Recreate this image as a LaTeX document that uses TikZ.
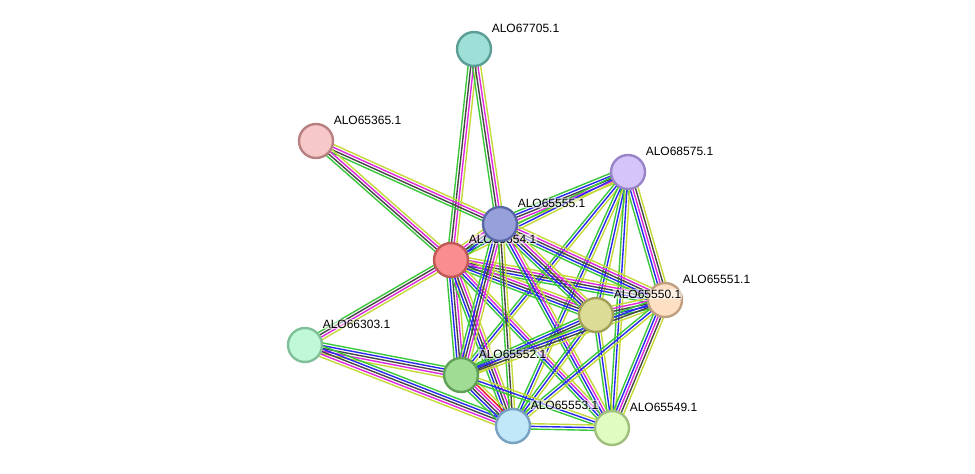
\documentclass[tikz,border=0pt]{standalone}
\usepackage{fontspec}
\setmainfont{Liberation Sans}
\usetikzlibrary{calc}
\definecolor{sg}{RGB}{58,200,58}
\definecolor{sk}{RGB}{70,70,70}
\definecolor{sm}{RGB}{222,40,222}
\definecolor{sy}{RGB}{196,216,56}
\definecolor{sb}{RGB}{40,40,240}
\definecolor{sr}{RGB}{236,30,30}
\newcommand\nchan{0}
\newcommand\edgeln[3]{%
  \gdef\nchan{0}%
  \foreach \c in {#3}{\xdef\nchan{\the\numexpr\nchan+1\relax}}%
  \foreach \c [count=\i] in {#3}{%
    \pgfmathsetmacro\off{(\i-(\nchan+1)/2)*2.7}%
    \draw[color=\c, line width=1.4pt] ($(#1)!\off pt!90:(#2)$) -- ($(#2)!\off pt!-90:(#1)$);
  }%
}
\tikzset{
  prot/.style={circle, minimum size=34pt, inner sep=0pt, line width=2.4pt},
  plabel/.style={anchor=west, inner sep=0.6pt, fill=white, fill opacity=0.55, text opacity=1, font=\fontsize{12}{14}\selectfont}
}
\begin{document}
\begin{tikzpicture}[x=1pt, y=-1pt]
\useasboundingbox (0,0) rectangle (975,474);
\coordinate (A) at (474,49);
\coordinate (B) at (316,141);
\coordinate (C) at (628,172);
\coordinate (D) at (500,224);
\coordinate (E) at (451,260);
\coordinate (F) at (665,300);
\coordinate (G) at (596,315);
\coordinate (H) at (305,345);
\coordinate (I) at (461,375);
\coordinate (J) at (513,426);
\coordinate (K) at (612,428);
% edges
\edgeln{A}{E}{sg,sk,sm,sy}
\edgeln{A}{D}{sg,sk,sm,sy}
\edgeln{B}{D}{sg,sk,sm,sy}
\edgeln{B}{E}{sg,sk,sm,sy}
\edgeln{C}{D}{sg,sb,sk,sm,sy}
\edgeln{C}{E}{sg,sb,sy}
\edgeln{C}{F}{sg,sb,sm,sk,sy}
\edgeln{C}{G}{sg,sb,sy}
\edgeln{C}{I}{sg,sb,sy}
\edgeln{C}{J}{sg,sb,sy}
\edgeln{C}{K}{sg,sb,sy}
\edgeln{H}{E}{sy,sm,sk,sg}
\edgeln{H}{I}{sy,sm,sk,sb,sg}
\edgeln{H}{J}{sy,sm,sk,sb,sg}
\edgeln{E}{D}{sg,sb,sk,sm,sy}
\edgeln{E}{F}{sg,sb,sk,sm,sy}
\edgeln{E}{G}{sg,sb,sk,sm,sy}
\edgeln{E}{I}{sg,sb,sk,sm,sy}
\edgeln{E}{J}{sg,sb,sk,sm,sy}
\edgeln{E}{K}{sg,sb,sm,sy}
\edgeln{D}{F}{sg,sb,sk,sm,sy}
\edgeln{D}{G}{sg,sb,sk,sm,sy}
\edgeln{D}{I}{sg,sb,sk,sm,sy}
\edgeln{D}{J}{sg,sk,sy}
\edgeln{D}{K}{sg,sb,sm,sy}
\edgeln{G}{F}{sg,sb,sk,sm,sy}
\edgeln{G}{I}{sg,sb,sk,sy}
\edgeln{G}{J}{sg,sb,sy}
\edgeln{G}{K}{sg,sb,sy}
\edgeln{F}{I}{sg,sb,sk,sy}
\edgeln{F}{J}{sg,sb,sy}
\edgeln{F}{K}{sg,sb,sm,sk,sy}
\edgeln{I}{J}{sg,sb,sk,sm,sr,sy}
\edgeln{I}{K}{sg,sb,sy}
\edgeln{J}{K}{sg,sb,sy}
% nodes
\node[prot, fill={rgb,255:red,158;green,224;blue,216}, draw={rgb,255:red,90;green,158;blue,150}] (nA) at (A) {};
\node[plabel] (lA) at ($(A)+(17,-21)$) {ALO67705.1};
\node[prot, fill={rgb,255:red,247;green,200;blue,200}, draw={rgb,255:red,184;green,128;blue,128}] (nB) at (B) {};
\node[plabel] (lB) at ($(B)+(17,-21)$) {ALO65365.1};
\node[prot, fill={rgb,255:red,212;green,196;blue,250}, draw={rgb,255:red,154;green,132;blue,200}] (nC) at (C) {};
\node[plabel] (lC) at ($(C)+(17,-21)$) {ALO68575.1};
\node[prot, fill={rgb,255:red,250;green,142;blue,142}, draw={rgb,255:red,192;green,88;blue,88}] (nE) at (E) {};
\node[plabel] (lE) at ($(E)+(17,-21)$) {ALO65554.1};
\node[prot, fill={rgb,255:red,152;green,160;blue,220}, draw={rgb,255:red,90;green,104;blue,168}] (nD) at (D) {};
\node[plabel] (lD) at ($(D)+(17,-21)$) {ALO65555.1};
\node[prot, fill={rgb,255:red,253;green,224;blue,196}, draw={rgb,255:red,192;green,160;blue,128}] (nF) at (F) {};
\node[plabel] (lF) at ($(F)+(17,-21)$) {ALO65551.1};
\node[prot, fill={rgb,255:red,220;green,220;blue,150}, draw={rgb,255:red,160;green,160;blue,88}] (nG) at (G) {};
\node[plabel] (lG) at ($(G)+(17,-21)$) {ALO65550.1};
\node[prot, fill={rgb,255:red,192;green,248;blue,216}, draw={rgb,255:red,128;green,192;blue,152}] (nH) at (H) {};
\node[plabel] (lH) at ($(H)+(17,-21)$) {ALO66303.1};
\node[prot, fill={rgb,255:red,160;green,220;blue,148}, draw={rgb,255:red,96;green,160;blue,88}] (nI) at (I) {};
\node[plabel] (lI) at ($(I)+(17,-21)$) {ALO65552.1};
\node[prot, fill={rgb,255:red,192;green,232;blue,248}, draw={rgb,255:red,120;green,160;blue,192}] (nJ) at (J) {};
\node[plabel] (lJ) at ($(J)+(17,-21)$) {ALO65553.1};
\node[prot, fill={rgb,255:red,224;green,252;blue,192}, draw={rgb,255:red,160;green,192;blue,128}] (nK) at (K) {};
\node[plabel] (lK) at ($(K)+(17,-21)$) {ALO65549.1};
\end{tikzpicture}
\end{document}
